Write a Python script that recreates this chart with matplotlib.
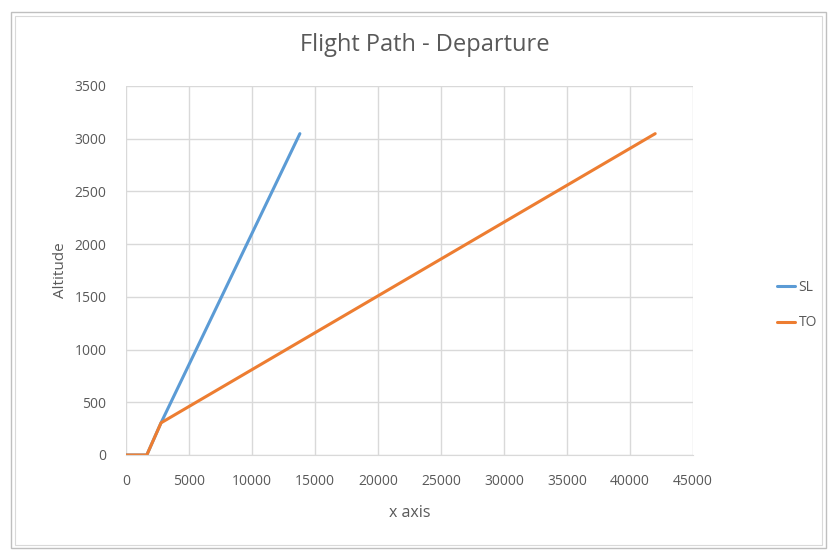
import matplotlib
matplotlib.use("Agg")
import matplotlib.pyplot as plt
from matplotlib.patches import Rectangle

plt.rcParams['font.family'] = ['Open Sans', 'DejaVu Sans']

sl_x = [0, 1650, 2780, 13800]
sl_y = [0, 0, 305, 3048]
to_x = [0, 1650, 2780, 42000]
to_y = [0, 0, 305, 3048]
x_ticks = [0, 5000, 10000, 15000, 20000, 25000, 30000, 35000, 40000, 45000]
y_ticks = [0, 500, 1000, 1500, 2000, 2500, 3000, 3500]

W, H = 838, 552
fig = plt.figure(figsize=(W/100, H/100), dpi=100)
ax = fig.add_axes([126/W, 1-455/H, (693-126)/W, (455-86)/H])

ax.plot(sl_x, sl_y, color='#5B9BD5', lw=2.2, label='SL', solid_capstyle='round')
ax.plot(to_x, to_y, color='#ED7D31', lw=2.2, label='TO', solid_capstyle='round')

ax.set_xlim(0, 45000)
ax.set_ylim(0, 3500)
ax.set_xticks(x_ticks)
ax.set_yticks(y_ticks)
ax.grid(True, color='#D9D9D9', lw=1)
ax.set_axisbelow(True)
for s in ['top', 'right', 'left']:
    ax.spines[s].set_visible(False)
ax.spines['bottom'].set_color('#D9D9D9')
ax.tick_params(axis='x', length=0, labelsize=10, colors='#595959', pad=14)
ax.tick_params(axis='y', length=0, labelsize=10, colors='#595959', pad=14)
ax.set_xlabel('x axis', fontsize=11.5, color='#595959', labelpad=11)
ax.set_ylabel('Altitude', fontsize=11, color='#595959', labelpad=5)

fig.text(425/W, 1-45/H, 'Flight Path - Departure', ha='center', va='center',
         fontsize=17, color='#595959')

leg = fig.legend(loc='center left', bbox_to_anchor=(764/W, 1-305/H), frameon=False,
                 fontsize=10, labelcolor='#595959', handlelength=1.35, labelspacing=1.5,
                 handletextpad=0.25)

fig.patches.append(Rectangle((11/W, 1-548/H), (826-11)/W, (548-12)/H,
                             transform=fig.transFigure, fill=False,
                             edgecolor='#BFBFBF', lw=1))
fig.patches.append(Rectangle((15/W, 1-545/H), (822-15)/W, (545-16)/H,
                             transform=fig.transFigure, fill=False,
                             edgecolor='#D9D9D9', lw=0.8))

fig.savefig('out.png', dpi=100)
